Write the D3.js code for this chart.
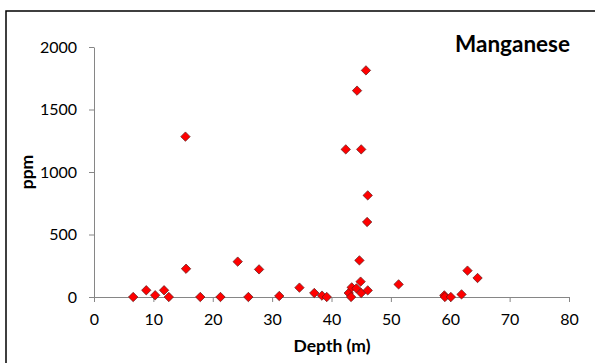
<!DOCTYPE html>
<html><head><meta charset="utf-8">
<script src="https://cdn.jsdelivr.net/npm/d3@7"></script>
<style>body{margin:0;background:#fff}svg{display:block}text{font-family:Lato,"Open Sans",sans-serif}</style>
</head><body><svg id="c" width="595" height="363"></svg>
<script>
const title = "Manganese";
const xLabel = "Depth (m)";
const yLabel = "ppm";
const xTicks = [0,10,20,30,40,50,60,70,80];
const yTicks = [0,500,1000,1500,2000];
const depth = [6.6,8.8,10.3,11.8,12.6,15.5,15.4,17.9,21.3,24.2,26.0,27.8,31.2,34.6,37.1,38.4,39.2,
  42.4,42.9,43.3,43.4,44.2,44.3,44.7,44.9,45.0,45.0,45.8,46.0,46.1,46.1,51.3,59.0,59.1,60.1,61.9,62.9,64.6];
const ppm = [0,54,14,54,0,226,1283,0,0,283,0,221,8,75,32,11,0,
  1181,32,0,77,69,1651,293,123,32,1181,1813,600,813,53,101,13,0,0,21,211,152];

const svg = d3.select("#c");
svg.append("rect").attr("x",6).attr("y",11).attr("width",620).attr("height",400)
  .attr("fill","none").attr("stroke","#000").attr("stroke-width",1.5);

const x = d3.scaleLinear().domain([0,80]).range([94,569]);
const y = d3.scaleLinear().domain([0,2000]).range([297,47]);
const axisColor = "#868686";

const gx = svg.append("g").attr("transform","translate(0,297)")
  .call(d3.axisBottom(x).tickValues(xTicks).tickFormat(d3.format("d")).tickSize(5).tickPadding(12).tickSizeOuter(0));
const gy = svg.append("g").attr("transform","translate(94,0)")
  .call(d3.axisLeft(y).tickValues(yTicks).tickFormat(d3.format("d")).tickSize(5).tickPadding(12).tickSizeOuter(0));
[gx,gy].forEach(g=>{
  g.selectAll("path,line").attr("stroke",axisColor);
  g.selectAll("text").attr("fill","#000").style("font-size","16px").style("font-family","Lato");
});

const pts = depth.map((d,i)=>({d, v: ppm[i]}));
const s = 4.7;
svg.append("g").selectAll("path").data(pts).join("path")
  .attr("d", p => { const cx=x(p.d), cy=y(p.v); return `M${cx},${cy-s}L${cx+s},${cy}L${cx},${cy+s}L${cx-s},${cy}Z`; })
  .attr("fill","#ff0000").attr("stroke","#5a1a1a").attr("stroke-width",0.7);

svg.append("text").attr("x",570).attr("y",52).attr("text-anchor","end")
  .style("font-size","22.5px").style("font-weight","bold").text(title);
svg.append("text").attr("x",332).attr("y",352).attr("text-anchor","middle")
  .style("font-size","17.5px").style("font-weight","bold").text(xLabel);
svg.append("text").attr("transform","translate(33,172) rotate(-90)").attr("text-anchor","middle")
  .style("font-size","17.5px").style("font-weight","bold").text(yLabel);
</script></body></html>
